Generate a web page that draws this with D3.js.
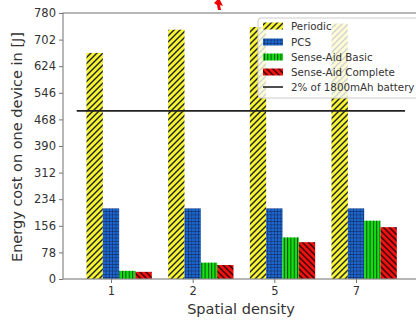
<!DOCTYPE html>
<html><head><meta charset="utf-8">
<script src="https://cdn.jsdelivr.net/npm/d3@7"></script>
<style>body{margin:0;background:#fff}svg{display:block}text{font-family:"DejaVu Sans",sans-serif}</style>
</head><body><svg id="c" width="416" height="320"></svg>
<script>
const categories = ["1","2","5","7"];
const seriesNames = ["Periodic","PCS","Sense-Aid Basic","Sense-Aid Complete"];
const periodic = [663, 731, 739, 749];
const pcs = [207, 207, 207, 207];
const senseAidBasic = [24, 48, 122, 171];
const senseAidComplete = [21, 41, 108, 152];
const batteryLine = 493;
const yTicks = [0,78,156,234,312,390,468,546,624,702,780];
const lineLabel = "2% of 1800mAh battery";

(function(){
const series = [periodic, pcs, senseAidBasic, senseAidComplete];
const svg = d3.select("#c");
const defs = svg.append("defs");

function hatch(id, bg, size, lines, stroke, sw){
  const p = defs.append("pattern").attr("id",id).attr("patternUnits","userSpaceOnUse")
    .attr("width",size).attr("height",size);
  p.append("rect").attr("width",size).attr("height",size).attr("fill",bg);
  lines.forEach(l=>p.append("line").attr("x1",l[0]).attr("y1",l[1]).attr("x2",l[2]).attr("y2",l[3])
    .attr("stroke",stroke).attr("stroke-width",sw));
}
const s=6;
hatch("pPer","#f7f531",s,[[0,s,s,0],[-1,1,1,-1],[s-1,s+1,s+1,s-1]],"#222",1.4);
hatch("pPcs","#1f66cc",3.3,[[0,0,0,3.3],[0,0,3.3,0]],"#0a1e48",0.9);
hatch("pSab","#12e012",3.3,[[0.5,0,0.5,3.3]],"#0a4a0a",1.0);
hatch("pSac","#ee1111",s,[[0,0,s,s],[-1,s-1,1,s+1],[s-1,-1,s+1,1]],"#3a0000",1.4);
const fills = ["url(#pPer)","url(#pPcs)","url(#pSab)","url(#pSac)"];

const mL=63, mR=440, mT=13, mB=279;
const x = d3.scaleLinear().domain([0,3]).range([111,356]);
const y = d3.scaleLinear().domain([0,780]).range([mB, mT]);
const bw = 0.2;

series.forEach((vals,si)=>{
  svg.append("g").selectAll("rect").data(vals).enter().append("rect")
    .attr("x",(d,i)=>x(i+(si-1)*bw-bw/2))
    .attr("width",x(bw)-x(0))
    .attr("y",d=>y(d)).attr("height",d=>y(0)-y(d))
    .attr("fill",fills[si]);
});

svg.append("line").attr("x1",x(-0.42)).attr("x2",x(3.6)).attr("y1",y(batteryLine)).attr("y2",y(batteryLine))
  .attr("stroke","#222").attr("stroke-width",1.6);

svg.append("rect").attr("x",mL).attr("y",mT).attr("width",mR-mL).attr("height",mB-mT)
  .attr("fill","none").attr("stroke","#888").attr("stroke-width",1.2);

const ya = svg.append("g").attr("transform",`translate(${mL},0)`)
  .call(d3.axisLeft(y).tickValues(yTicks).tickSize(4).tickPadding(3));
ya.select(".domain").remove();
ya.selectAll("line").attr("stroke","#777");
ya.selectAll("text").attr("font-size",11.5).attr("fill","#333").attr("font-family","DejaVu Sans");
const xa = svg.append("g").attr("transform",`translate(0,${mB})`)
  .call(d3.axisBottom(x).tickValues([0,1,2,3]).tickFormat(i=>categories[i]).tickSize(4).tickPadding(4));
xa.select(".domain").remove();
xa.selectAll("line").attr("stroke","#777");
xa.selectAll("text").attr("font-size",11.5).attr("fill","#333").attr("font-family","DejaVu Sans");

svg.append("text").attr("x",241).attr("y",314).attr("text-anchor","middle").attr("font-size",14.5).attr("fill","#333")
  .text("Spatial density");
svg.append("text").attr("transform","translate(22,147) rotate(-90)").attr("text-anchor","middle")
  .attr("font-size",14.5).attr("fill","#333").text("Energy cost on one device in [J]");

const lg = svg.append("g");
lg.append("rect").attr("x",258).attr("y",18).attr("width",170).attr("height",80).attr("rx",3)
  .attr("fill","white").attr("fill-opacity",0.8).attr("stroke","#ccc");
const rowsY = [26,42,57,72,87];
seriesNames.forEach((n,i)=>{
  lg.append("rect").attr("x",263).attr("y",rowsY[i]-3.5).attr("width",20).attr("height",7).attr("fill",fills[i]);
  lg.append("text").attr("x",291).attr("y",rowsY[i]+3.5).attr("font-size",10.3).attr("fill","#333").text(n);
});
lg.append("line").attr("x1",263).attr("x2",283).attr("y1",rowsY[4]).attr("y2",rowsY[4]).attr("stroke","#222").attr("stroke-width",1.6);
lg.append("text").attr("x",291).attr("y",rowsY[4]+3.5).attr("font-size",10.3).attr("fill","#333").text(lineLabel);

svg.append("path").attr("d","M214,3 L219,-2 L223,6 L220,5 L221,10 L218,10 L217,5 Z").attr("fill","#e00");
})();
</script></body></html>
